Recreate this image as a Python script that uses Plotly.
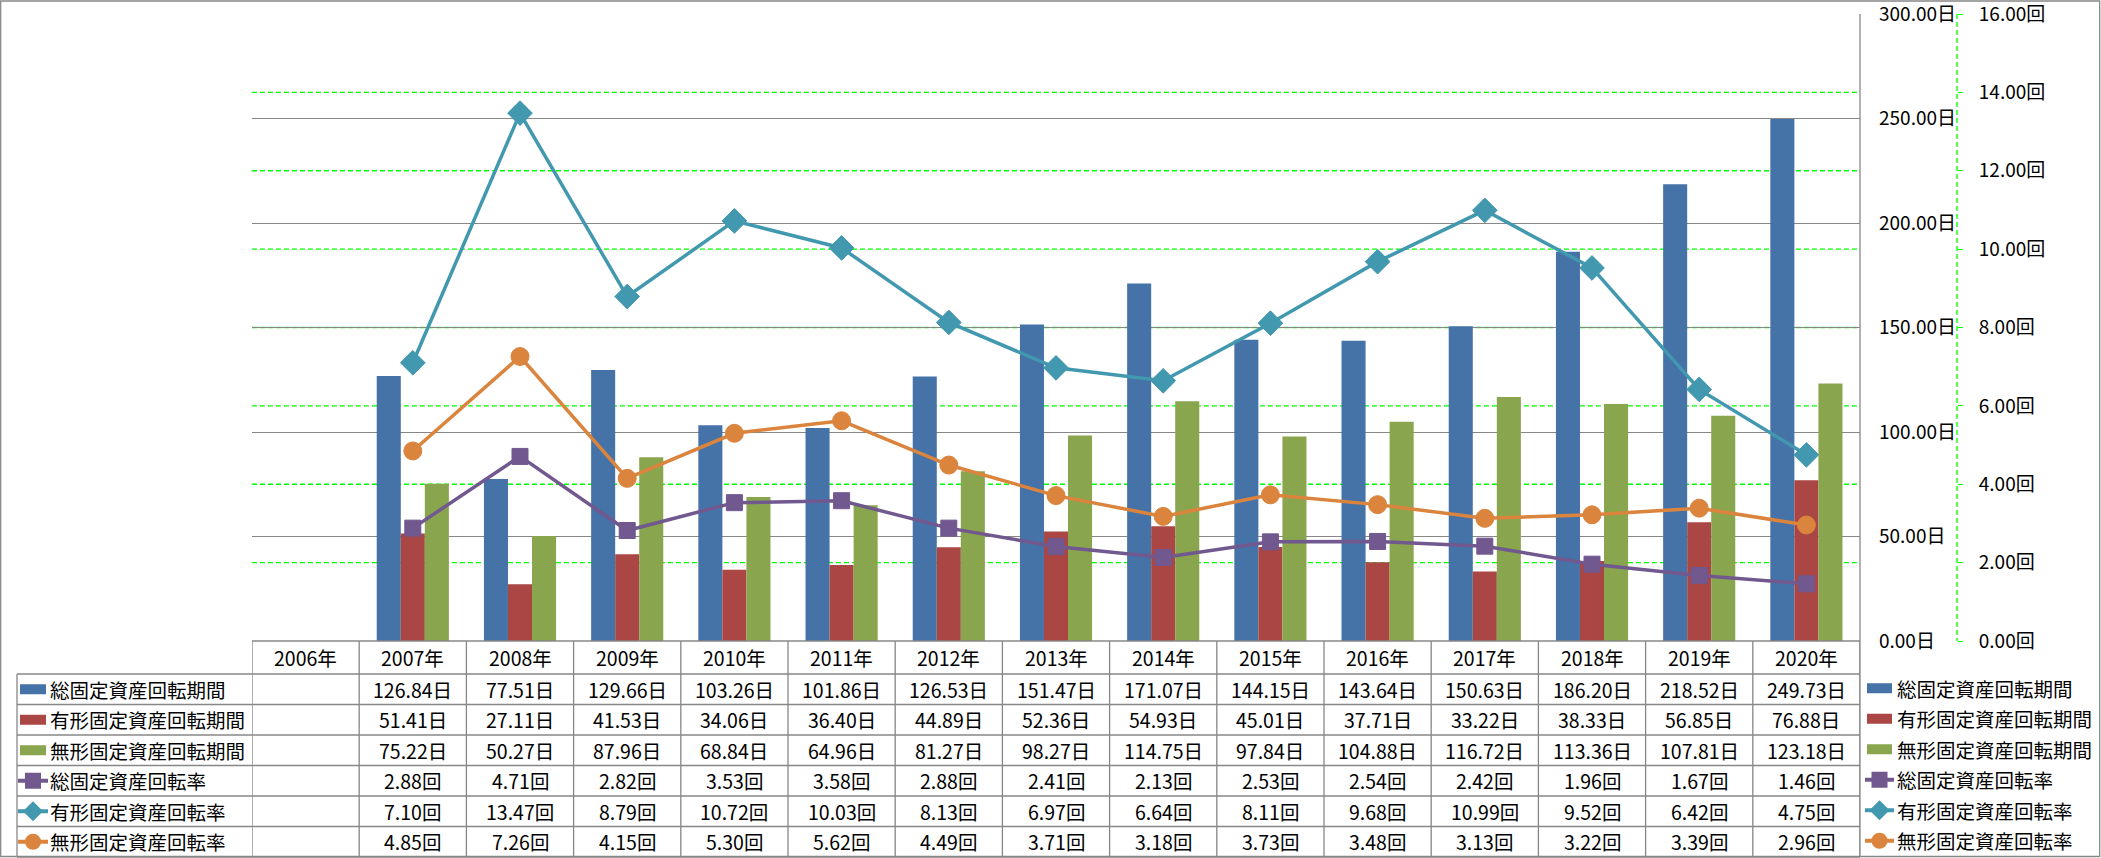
import plotly.graph_objects as go

# ---------------- data ----------------
categories = ["2006年", "2007年", "2008年", "2009年", "2010年", "2011年", "2012年", "2013年",
              "2014年", "2015年", "2016年", "2017年", "2018年", "2019年", "2020年"]
total_days = [None, 126.84, 77.51, 129.66, 103.26, 101.86, 126.53, 151.47, 171.07, 144.15,
              143.64, 150.63, 186.20, 218.52, 249.73]
tangible_days = [None, 51.41, 27.11, 41.53, 34.06, 36.40, 44.89, 52.36, 54.93, 45.01,
                 37.71, 33.22, 38.33, 56.85, 76.88]
intangible_days = [None, 75.22, 50.27, 87.96, 68.84, 64.96, 81.27, 98.27, 114.75, 97.84,
                   104.88, 116.72, 113.36, 107.81, 123.18]
total_rate = [None, 2.88, 4.71, 2.82, 3.53, 3.58, 2.88, 2.41, 2.13, 2.53, 2.54, 2.42, 1.96, 1.67, 1.46]
tangible_rate = [None, 7.10, 13.47, 8.79, 10.72, 10.03, 8.13, 6.97, 6.64, 8.11, 9.68, 10.99, 9.52, 6.42, 4.75]
intangible_rate = [None, 4.85, 7.26, 4.15, 5.30, 5.62, 4.49, 3.71, 3.18, 3.73, 3.48, 3.13, 3.22, 3.39, 2.96]

days_ticks = [0, 50, 100, 150, 200, 250, 300]
rate_ticks = [0, 2, 4, 6, 8, 10, 12, 14, 16]

series_names = ["総固定資産回転期間", "有形固定資産回転期間", "無形固定資産回転期間",
                "総固定資産回転率", "有形固定資産回転率", "無形固定資産回転率"]
colors = ["#4572A7", "#AA4643", "#89A54E", "#71588F", "#4198AF", "#DB843D"]
kinds = ["bar", "bar", "bar", "square", "diamond", "circle"]
units = ["日", "日", "日", "回", "回", "回"]
values = [total_days, tangible_days, intangible_days, total_rate, tangible_rate, intangible_rate]

# ---------------- layout geometry (pixels) ----------------
W, H = 2101, 858
PL, PR, PT, PB = 252, 1860, 14, 641
AX2_X = 1957
HDR_TOP, HDR_BOT = 641, 674
ROW_H = 30.5
TBL_LEFT = 17
GRAY = "#878787"
GREEN = "#00FF00"
FONT = "Noto Sans CJK JP"


def px(x):
    return x / W


def py(y):
    return 1 - y / H


fig = go.Figure()

for i in range(3):
    fig.add_trace(go.Bar(x=categories, y=values[i], name=series_names[i],
                         marker=dict(color=colors[i], line=dict(width=0)),
                         yaxis="y", showlegend=False))

msym = {"square": "square", "diamond": "diamond", "circle": "circle"}
msize = {"square": 16, "diamond": 19, "circle": 18}
for i in range(3, 6):
    fig.add_trace(go.Scatter(x=categories, y=values[i], name=series_names[i], yaxis="y2",
                             mode="lines+markers",
                             line=dict(color=colors[i], width=3.5),
                             marker=dict(symbol=msym[kinds[i]], size=msize[kinds[i]],
                                         color=colors[i], line=dict(color=colors[i], width=1)),
                             showlegend=False))

shapes = []
annotations = []

# secondary grid lines (green dashed)
for v in rate_ticks[1:-1]:
    shapes.append(dict(type="line", xref="paper", yref="y2", x0=px(PL), x1=px(PR), y0=v, y1=v,
                       line=dict(color=GREEN, width=1.3, dash="5px,3px"), layer="between"))
# secondary axis line (dashed)
shapes.append(dict(type="line", xref="paper", yref="paper", x0=px(AX2_X), x1=px(AX2_X),
                   y0=py(PT), y1=py(PB), line=dict(color=GREEN, width=1.3, dash="5px,3px")))
# plot right border (continues through table)
shapes.append(dict(type="line", xref="paper", yref="paper", x0=px(PR), x1=px(PR),
                   y0=py(PT), y1=py(H - 1), line=dict(color=GRAY, width=1.3)))

# ---------------- data table ----------------
n = len(categories)
shapes.append(dict(type="line", xref="paper", yref="paper", x0=px(PL), x1=px(PR),
                   y0=py(HDR_TOP), y1=py(HDR_TOP), line=dict(color=GRAY, width=1.3)))
row_lines = [HDR_BOT + ROW_H * k for k in range(7)]
for yl in row_lines:
    shapes.append(dict(type="line", xref="paper", yref="paper", x0=px(TBL_LEFT), x1=px(PR),
                       y0=py(yl), y1=py(yl), line=dict(color=GRAY, width=1.3)))
for k in range(n + 1):
    shapes.append(dict(type="line", xref="x", yref="paper", x0=k - 0.5, x1=k - 0.5,
                       y0=py(HDR_TOP), y1=py(row_lines[-1]), line=dict(color=GRAY, width=1.3)))
shapes.append(dict(type="line", xref="paper", yref="paper", x0=px(TBL_LEFT), x1=px(TBL_LEFT),
                   y0=py(HDR_BOT), y1=py(row_lines[-1]), line=dict(color=GRAY, width=1.3)))

tfont = dict(family=FONT, size=19.5, color="#000000")
hdr_c = (HDR_TOP + HDR_BOT) / 2
for c in categories:
    annotations.append(dict(text=c, x=c, xref="x", y=py(hdr_c), yref="paper",
                            showarrow=False, xanchor="center", yanchor="middle", font=tfont))

row_centers = [HDR_BOT + ROW_H * (k + 0.5) for k in range(6)]


def legend_symbol(kind, color, xl, xr, yc):
    out = []
    xc = (xl + xr) / 2
    if kind == "bar":
        out.append(dict(type="rect", xref="paper", yref="paper", x0=px(xl), x1=px(xr),
                        y0=py(yc - 5), y1=py(yc + 5), fillcolor=color, line=dict(width=0)))
        return out
    out.append(dict(type="line", xref="paper", yref="paper", x0=px(xl - 2), x1=px(xr + 2),
                    y0=py(yc), y1=py(yc), line=dict(color=color, width=4)))
    if kind == "square":
        out.append(dict(type="rect", xref="paper", yref="paper", x0=px(xc - 8), x1=px(xc + 8),
                        y0=py(yc - 8), y1=py(yc + 8), fillcolor=color, line=dict(width=0)))
    elif kind == "circle":
        out.append(dict(type="circle", xref="paper", yref="paper", x0=px(xc - 8), x1=px(xc + 8),
                        y0=py(yc - 8), y1=py(yc + 8), fillcolor=color, line=dict(width=0)))
    else:
        d = 10
        path = (f"M {px(xc - d)} {py(yc)} L {px(xc)} {py(yc - d)} "
                f"L {px(xc + d)} {py(yc)} L {px(xc)} {py(yc + d)} Z")
        out.append(dict(type="path", xref="paper", yref="paper", path=path,
                        fillcolor=color, line=dict(width=0)))
    return out


for r in range(6):
    yc = row_centers[r]
    shapes.extend(legend_symbol(kinds[r], colors[r], 20, 46, yc))
    annotations.append(dict(text=series_names[r], x=px(48), xref="paper", y=py(yc), yref="paper",
                            showarrow=False, xanchor="left", yanchor="middle", font=tfont))
    for c, v in zip(categories, values[r]):
        if v is None:
            continue
        annotations.append(dict(text=f"{v:.2f}{units[r]}", x=c, xref="x", y=py(yc), yref="paper",
                                showarrow=False, xanchor="center", yanchor="middle", font=tfont))
    ycr = yc - 1
    shapes.extend(legend_symbol(kinds[r], colors[r], 1867, 1892, ycr))
    annotations.append(dict(text=series_names[r], x=px(1895), xref="paper", y=py(ycr), yref="paper",
                            showarrow=False, xanchor="left", yanchor="middle", font=tfont))

# outer border
shapes.append(dict(type="rect", xref="paper", yref="paper", x0=px(0.7), x1=px(W - 1.3),
                   y0=py(1), y1=py(H - 1.5), line=dict(color=GRAY, width=1.3),
                   fillcolor="rgba(0,0,0,0)"))

fig.update_layout(
    width=W, height=H,
    margin=dict(l=0, r=0, t=0, b=0),
    paper_bgcolor="white", plot_bgcolor="white",
    barmode="group", bargap=0.327, bargroupgap=0,
    font=dict(family=FONT, color="#000000"),
    xaxis=dict(type="category", domain=[px(PL), px(PR)], range=[-0.5, n - 0.5],
               showticklabels=False, showgrid=False, zeroline=False, showline=False,
               ticks="", fixedrange=True),
    yaxis=dict(domain=[py(PB), py(PT)], range=[0, 300], tickmode="array", tickvals=days_ticks,
               ticktext=[f"{t:.2f}日" for t in days_ticks], side="right", anchor="x",
               showgrid=True, gridcolor=GRAY, gridwidth=1.3, zeroline=False, showline=False,
               ticks="", ticklabelstandoff=18, automargin=False, ticklabeloverflow="allow",
               tickfont=dict(family=FONT, size=19, color="#000000"), fixedrange=True),
    yaxis2=dict(domain=[py(PB), py(PT)], range=[0, 16], tickmode="array", tickvals=rate_ticks,
                ticktext=[f"{t:.2f}回" for t in rate_ticks], overlaying="y", anchor="free",
                position=px(AX2_X), side="right", showgrid=False, zeroline=False, showline=False,
                ticks="outside", ticklen=5, tickcolor=GREEN, tickwidth=1.3,
                ticklabelstandoff=12, automargin=False, ticklabeloverflow="allow",
                tickfont=dict(family=FONT, size=19, color="#000000"), fixedrange=True),
    shapes=shapes,
    annotations=annotations,
)

fig.write_html("out.html", config={"displayModeBar": False},
               post_script="document.body.style.margin='0';document.body.style.overflow='hidden';")
